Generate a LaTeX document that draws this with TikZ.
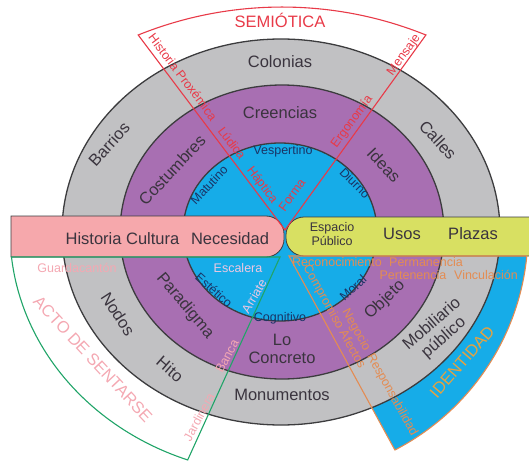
\documentclass[tikz,border=0pt]{standalone}
\usepackage{fontspec}
\setmainfont{Liberation Sans}

\definecolor{ringgray}{RGB}{193,193,195}
\definecolor{ringpurple}{RGB}{168,111,178}
\definecolor{ringblue}{RGB}{22,172,232}
\definecolor{edgegray}{RGB}{60,60,62}
\definecolor{barpink}{RGB}{246,168,172}
\definecolor{baryellow}{RGB}{216,224,98}
\definecolor{semred}{RGB}{232,58,72}
\definecolor{actgreen}{RGB}{32,164,104}
\definecolor{idorange}{RGB}{228,140,82}
\definecolor{softpink}{RGB}{244,168,178}
\definecolor{navytext}{RGB}{26,52,102}
\definecolor{darktext}{RGB}{58,52,62}
\definecolor{paletext}{RGB}{238,200,226}
\definecolor{goldtext}{RGB}{230,162,64}

\begin{document}
\begin{tikzpicture}[x=1pt,y=1pt,
    ring/.style={draw=edgegray,line width=1.3pt},
    biglbl/.style={text=darktext,font=\fontsize{16.5}{18}\selectfont,inner sep=0pt,align=center},
    smalllbl/.style={font=\fontsize{12.5}{14.5}\selectfont,inner sep=0pt,align=center},
    bluelbl/.style={smalllbl,text=navytext},
    ]
    \useasboundingbox (0,0) rectangle (529,464);

    % identidad sector
    \fill[ringblue] (289,208) -- (394.9,14) arc[start angle=-62.4,end angle=-5.6,x radius=248,y radius=246] -- cycle;

    % rings
    \draw[ring,fill=ringgray] (281,232) ellipse [x radius=219,y radius=193];
    \draw[ring,fill=ringpurple] (282,232) ellipse [x radius=162,y radius=147];
    \draw[ring,fill=ringblue] (280,232) ellipse [x radius=97,y radius=89];

    % bars
    \draw[edgegray,line width=0.8pt,fill=barpink] (11,207) -- (11,248) -- (266,248)
        arc[start angle=90,end angle=0,radius=18] -- (284,225)
        arc[start angle=0,end angle=-90,radius=18] -- cycle;
    \draw[edgegray,line width=0.8pt,fill=baryellow] (535,247) -- (304,247)
        arc[start angle=90,end angle=180,radius=18] -- (286,226)
        arc[start angle=180,end angle=270,radius=18] -- (535,208);

    % sectors
    \draw[semred,line width=1.1pt] (285,234) -- (138.2,429) arc[start angle=112,end angle=68,radius=384] -- cycle;
    \draw[actgreen,line width=1.1pt] (280,207) -- (11.5,207) arc[start angle=186,end angle=250,x radius=270,y radius=243] -- cycle;
    \draw[idorange,line width=1.1pt] (289,208) -- (394.9,14) arc[start angle=-62.4,end angle=-5.6,x radius=248,y radius=246] -- cycle;

    % ring labels
    \node[biglbl] (colonias) at (280,402) {Colonias};
    \node[biglbl] (monumentos) at (282,69) {Monumentos};
    \node[biglbl] (creencias) at (280,351) {Creencias};
    \node[biglbl] (concreto) at (282,115) {Lo\\Concreto};
    \node[biglbl,rotate=41] (mobiliario) at (438,133) {Mobiliario\\público};
    \foreach \x/\y/\a/\t [count=\i] in {109/320/48/Barrios, 438/324/-47/Calles, 118/150/-57/Nodos,
        170/95/-41/Hito, 172/294/47/Costumbres, 384/299/-47/Ideas, 185/158/-50/Paradigma, 385/164/44/Objeto} {
        \node[biglbl,rotate=\a] (lbl\i) at (\x,\y) {\t};
    }
    \foreach \x/\y/\a/\t [count=\i] in {283/313/0/Vespertino, 209/279/47/Matutino, 355/281/-45/Diurno,
        214/174/-42/Estético, 353/176/43/Moral, 280/146/0/Cognitivo} {
        \node[bluelbl,rotate=\a] (blue\i) at (\x,\y) {\t};
    }
    \node[smalllbl,text=paletext] (escalera) at (238,196) {Escalera};
    \node[smalllbl,text=paletext,rotate=60] (arriate) at (254,168) {Arriate};

    % bar labels
    \node[biglbl] (historia) at (122.5,225) {Historia Cultura};
    \node[biglbl] (necesidad) at (230,225) {Necesidad};
    \node[smalllbl,text=darktext] (espacio) at (332,230) {Espacio\\Público};
    \node[biglbl] (usos) at (402,230) {Usos};
    \node[biglbl] (plazas) at (473,230) {Plazas};

    % semiotica
    \node[biglbl,text=semred] (semiotica) at (280,444) {SEMIÓTICA};
    \foreach \x/\y/\a/\t [count=\i] in {183/387/-53/Historia Proxémica, 232/321/-53/Lúdica, 262/279/-53/Háptica,
        292/269/54/Forma, 352/342/54/Ergonomía, 404/409/54/Mensaje} {
        \node[smalllbl,text=semred,rotate=\a] (sem\i) at (\x,\y) {\t};
    }

    % acto de sentarse
    \node[biglbl,text=softpink,rotate=-47] (acto) at (93,105) {ACTO DE SENTARSE};
    \node[smalllbl,text=softpink] (guarda) at (77,196) {Guardacantón};
    \node[smalllbl,text=softpink,rotate=62] (jardinera) at (199,47) {Jardinera};
    \node[smalllbl,text=softpink,rotate=62] (banca) at (227,108) {Banca};

    % identidad
    \node[biglbl,text=goldtext,rotate=49] (identidad) at (462,102) {IDENTIDAD};
    \foreach \x/\y/\a/\t [count=\i] in {337/202/0/Reconocimiento, 426/202/0/Permanencia, 413/189/0/Pertenencia,
        486/189/0/Vinculación, 334/147/-61/Compromiso Afectos, 356/134/-61/Negocio, 392/69/-61/Responsabilidad} {
        \node[smalllbl,text=idorange,rotate=\a] (id\i) at (\x,\y) {\t};
    }
\end{tikzpicture}
\end{document}
